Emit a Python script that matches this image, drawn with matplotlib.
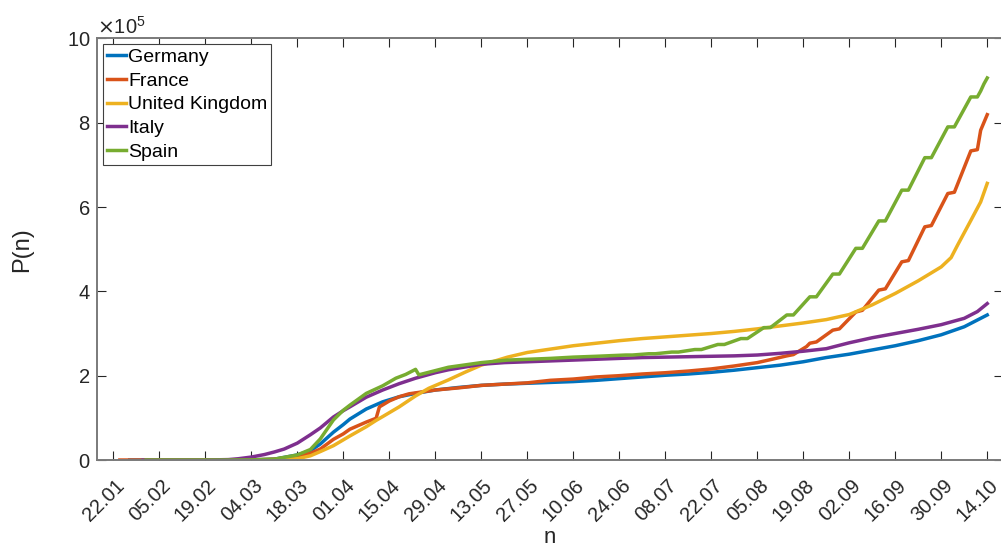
import numpy as np
import matplotlib
matplotlib.use('Agg')
import matplotlib.pyplot as plt
import matplotlib.transforms as mtransforms

plt.rcParams['font.family'] = ['Liberation Sans', 'DejaVu Sans']

# days counted from 22.01, values in units of 1e5 cases
tick_days = [0, 14, 28, 42, 56, 70, 84, 98, 112, 126, 140, 154, 168, 182, 196, 210, 224, 238, 252, 266]
tick_labels = ['22.01', '05.02', '19.02', '04.03', '18.03', '01.04', '15.04', '29.04', '13.05', '27.05',
               '10.06', '24.06', '08.07', '22.07', '05.08', '19.08', '02.09', '16.09', '30.09', '14.10']

de_days = [5, 35, 42, 49, 56, 60, 63, 67, 70, 72, 77, 82, 87, 92, 98, 105, 112, 119, 126, 133,
           140, 147, 154, 161, 168, 175, 182, 189, 196, 203, 210, 217, 224, 231, 238, 245, 252, 259, 266]
de_vals = [0, 0.001, 0.003, 0.02, 0.12, 0.22, 0.38, 0.66, 0.84, 0.97, 1.21, 1.38, 1.50, 1.58, 1.66, 1.72, 1.77, 1.80, 1.82, 1.84,
           1.86, 1.89, 1.93, 1.97, 2.01, 2.04, 2.08, 2.13, 2.19, 2.25, 2.33, 2.43, 2.51, 2.61, 2.71, 2.83, 2.97, 3.16, 3.44]

fr_days = [2, 35, 42, 49, 56, 60, 63, 67, 70, 72, 77, 80, 81, 84, 87, 90, 98, 105, 112, 119,
           126, 133, 140, 147, 154, 161, 168, 175, 182, 189, 196, 200, 205, 207, 211, 212, 214, 219, 221, 226,
           228, 233, 235, 240, 242, 247, 249, 254, 256, 261, 263, 264, 266]
fr_vals = [0, 0.002, 0.003, 0.02, 0.09, 0.16, 0.26, 0.49, 0.62, 0.73, 0.90, 0.99, 1.26, 1.40, 1.50, 1.57, 1.66, 1.71, 1.77, 1.80,
           1.83, 1.89, 1.92, 1.97, 2.00, 2.04, 2.07, 2.11, 2.16, 2.23, 2.31, 2.38, 2.47, 2.50, 2.69, 2.77, 2.80, 3.08, 3.11, 3.51,
           3.55, 4.03, 4.06, 4.70, 4.73, 5.53, 5.56, 6.32, 6.35, 7.33, 7.36, 7.82, 8.19]

uk_days = [9, 35, 42, 49, 56, 60, 63, 67, 72, 77, 80, 82, 87, 92, 96, 102, 107, 112, 120, 126,
           133, 140, 147, 154, 161, 168, 175, 182, 189, 196, 203, 210, 217, 224, 231, 238, 245, 252, 255, 257,
           261, 264, 266]
uk_vals = [0, 0.0, 0.001, 0.005, 0.03, 0.10, 0.20, 0.34, 0.57, 0.79, 0.94, 1.03, 1.26, 1.52, 1.70, 1.90, 2.08, 2.25, 2.44, 2.55,
           2.63, 2.71, 2.77, 2.83, 2.88, 2.92, 2.96, 3.00, 3.05, 3.11, 3.18, 3.25, 3.33, 3.45, 3.68, 3.95, 4.25, 4.58, 4.80, 5.10,
           5.68, 6.12, 6.56]

it_days = [9, 28, 35, 38, 42, 46, 49, 52, 56, 60, 63, 67, 70, 72, 77, 82, 87, 92, 98, 102,
           112, 119, 126, 133, 140, 147, 154, 161, 168, 175, 182, 189, 196, 203, 210, 217, 224, 231, 238, 245,
           252, 259, 263, 266]
it_vals = [0, 0.0, 0.01, 0.03, 0.07, 0.13, 0.19, 0.26, 0.40, 0.60, 0.76, 1.02, 1.17, 1.26, 1.49, 1.66, 1.81, 1.94, 2.07, 2.14,
           2.27, 2.31, 2.33, 2.35, 2.37, 2.39, 2.41, 2.43, 2.44, 2.45, 2.46, 2.47, 2.49, 2.53, 2.58, 2.64, 2.78, 2.90, 3.00, 3.10,
           3.21, 3.36, 3.52, 3.71]

es_days = [10, 35, 42, 49, 56, 60, 63, 67, 70, 72, 77, 82, 86, 89, 92, 93, 98, 102, 112, 120,
           133, 140, 147, 156, 158, 163, 165, 170, 172, 177, 179, 184, 186, 191, 193, 198, 200, 205, 207, 212,
           214, 219, 221, 226, 228, 233, 235, 240, 242, 247, 249, 254, 256, 261, 263, 264, 265, 266]
es_vals = [0, 0.0, 0.003, 0.02, 0.12, 0.25, 0.50, 0.95, 1.18, 1.30, 1.58, 1.76, 1.94, 2.03, 2.15, 2.02, 2.12, 2.20, 2.31, 2.37,
           2.41, 2.44, 2.46, 2.49, 2.49, 2.52, 2.52, 2.56, 2.56, 2.62, 2.62, 2.74, 2.74, 2.88, 2.88, 3.14, 3.14, 3.44, 3.44, 3.87,
           3.87, 4.41, 4.41, 5.02, 5.02, 5.67, 5.67, 6.40, 6.40, 7.17, 7.17, 7.90, 7.90, 8.61, 8.61, 8.75, 8.92, 9.06]

fig = plt.figure(figsize=(10.01, 5.5), dpi=100)
ax = fig.add_axes([0.0966, 0.1636, 0.9054, 0.7667])

lw = 2.5
ax.plot(de_days, np.array(de_vals) * 1e5, color='#0072BD', lw=lw, label='Germany')
ax.plot(fr_days, np.array(fr_vals) * 1e5, color='#D95319', lw=lw, label='France')
ax.plot(uk_days, np.array(uk_vals) * 1e5, color='#EDB120', lw=lw, label='United Kingdom')
ax.plot(it_days, np.array(it_vals) * 1e5, color='#7E2F8E', lw=lw, label='Italy')
ax.plot(es_days, np.array(es_vals) * 1e5, color='#77AC30', lw=lw, label='Spain')

ax.set_xlim(-5.05, 270.8)
ax.set_ylim(0, 1e6)
ax.set_yticks(np.arange(0, 1e6 + 1, 2e5))
ax.ticklabel_format(axis='y', style='sci', scilimits=(5, 5), useMathText=True)
ax.set_xticks(tick_days)
ax.set_xticklabels(tick_labels)

for s in ax.spines.values():
    s.set_color('#7a7a7a')
    s.set_linewidth(1.4)
ax.tick_params(direction='in', length=6.5, width=0.8, color='#262626',
               top=True, right=True, labelsize=14.5, labelcolor='#262626')
ax.tick_params(axis='x', pad=11.5)
ax.tick_params(axis='y', pad=4.5)
ax.yaxis.get_offset_text().set_fontsize(14.5)
ax.yaxis.get_offset_text().set_color('#262626')

shift = mtransforms.ScaledTranslation(1.5 / 100, 0, fig.dpi_scale_trans)
for lab in ax.get_xticklabels():
    lab.set_rotation(45)
    lab.set_ha('right')
    lab.set_va('top')
    lab.set_rotation_mode('anchor')
    lab.set_transform(lab.get_transform() + shift)

ax.set_ylabel('P(n)', fontsize=17, color='#262626')
ax.yaxis.set_label_coords(-0.0701, 0.5)
ax.set_xlabel('n', fontsize=16, color='#262626')
ax.xaxis.set_label_coords(0.5, -0.16)

leg = ax.legend(loc='upper left', bbox_to_anchor=(0.0066, 0.986), borderaxespad=0,
                fontsize=14, handlelength=1.0, handletextpad=0.12, borderpad=0.2,
                labelspacing=0.32, fancybox=False, framealpha=1, edgecolor='#404040')
leg.get_frame().set_linewidth(0.8)

fig.savefig('out.png', dpi=100)
